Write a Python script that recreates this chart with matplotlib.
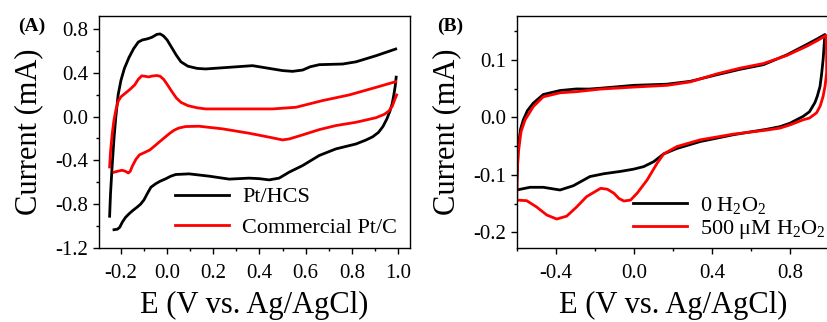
import numpy as np
import matplotlib
matplotlib.use("Agg")
import matplotlib.pyplot as plt
from matplotlib.ticker import MultipleLocator

plt.rcParams['font.family'] = ['Liberation Serif', 'DejaVu Serif']
plt.rcParams['mathtext.fontset'] = 'custom'
plt.rcParams['mathtext.rm'] = 'Liberation Serif'
plt.rcParams['mathtext.it'] = 'Liberation Serif:italic'
plt.rcParams['axes.unicode_minus'] = False

# (A) CV curves, Pt/HCS vs commercial Pt/C  (nan splits the open loop ends)
hcs_x = [-0.249, -0.245, -0.238, -0.23, -0.222, -0.212, -0.2, -0.185, -0.165, -0.145, -0.125, -0.107,
         -0.085, -0.065, -0.045, -0.03, -0.015, 0.0, 0.02, 0.04, 0.06, 0.09, 0.13, 0.167, 0.269, 0.37,
         0.442, 0.5, 0.543, 0.587, 0.62, 0.659, 0.76, 0.818, 0.905, 0.99,
         np.nan,
         0.992, 0.988, 0.982, 0.975, 0.965, 0.952, 0.935, 0.915, 0.89, 0.86, 0.818, 0.731, 0.659, 0.587,
         0.529, 0.485, 0.442, 0.4, 0.355, 0.269, 0.182, 0.095, 0.037, 0.015, -0.006, -0.03, -0.05, -0.07,
         -0.085, -0.1, -0.115, -0.13, -0.15, -0.165, -0.18, -0.194, -0.205, -0.215, -0.23]
hcs_y = [-0.91, -0.7, -0.45, -0.2, 0.0, 0.2, 0.33, 0.44, 0.54, 0.62, 0.68, 0.70,
         0.71, 0.725, 0.75, 0.755, 0.735, 0.70, 0.63, 0.56, 0.50, 0.46, 0.44, 0.435, 0.45, 0.465,
         0.44, 0.42, 0.413, 0.425, 0.455, 0.474, 0.48, 0.50, 0.556, 0.617,
         np.nan,
         0.36, 0.28, 0.20, 0.12, 0.05, -0.02, -0.09, -0.145, -0.185, -0.215, -0.25, -0.295, -0.355, -0.447,
         -0.507, -0.562, -0.578, -0.567, -0.562, -0.571, -0.544, -0.523, -0.529, -0.545, -0.568, -0.59,
         -0.614, -0.645, -0.70, -0.76, -0.80, -0.827, -0.86, -0.888, -0.92, -0.964, -1.01, -1.028, -1.033]

ptc_x = [-0.249, -0.245, -0.238, -0.23, -0.222, -0.212, -0.2, -0.18, -0.16, -0.14, -0.125, -0.11,
         -0.095, -0.08, -0.065, -0.045, -0.03, -0.015, 0.0, 0.02, 0.04, 0.06, 0.09, 0.13, 0.167, 0.312,
         0.457, 0.558, 0.673, 0.789, 0.905, 0.99,
         np.nan,
         0.994, 0.985, 0.975, 0.96, 0.94, 0.905, 0.818, 0.731, 0.659, 0.587, 0.529, 0.5, 0.442, 0.355,
         0.24, 0.138, 0.08, 0.05, 0.03, 0.01, -0.01, -0.035, -0.055, -0.075, -0.1, -0.12, -0.135, -0.15,
         -0.16, -0.168, -0.18, -0.195, -0.21, -0.23]
ptc_y = [-0.46, -0.32, -0.16, -0.03, 0.06, 0.14, 0.18, 0.215, 0.25, 0.29, 0.34, 0.372,
         0.368, 0.362, 0.37, 0.375, 0.368, 0.34, 0.295, 0.23, 0.17, 0.13, 0.10, 0.08, 0.07, 0.07,
         0.07, 0.085, 0.146, 0.198, 0.267, 0.319,
         np.nan,
         0.198, 0.15, 0.095, 0.05, 0.02, -0.01, -0.052, -0.082, -0.119, -0.167, -0.204, -0.213, -0.188,
         -0.152, -0.112, -0.088, -0.091, -0.105, -0.125, -0.155, -0.19, -0.234, -0.27, -0.305, -0.33,
         -0.35, -0.39, -0.45, -0.50, -0.515, -0.50, -0.49, -0.497, -0.508]

# (B) CV curves with and without H2O2
h0_x = [-0.6, -0.599, -0.592, -0.58, -0.566, -0.545, -0.515, -0.464, -0.378, -0.293, -0.23, -0.17, 0.0,
        0.17, 0.289, 0.426, 0.545, 0.664, 0.783, 0.885, 0.94, 0.979, 0.975, 0.97, 0.962, 0.954, 0.94,
        0.928, 0.9, 0.868, 0.8, 0.749, 0.681, 0.511, 0.34, 0.221, 0.153, 0.102, 0.051, 0.0, -0.068,
        -0.153, -0.225, -0.31, -0.378, -0.464, -0.532, -0.6]
h0_y = [-0.126, -0.109, -0.051, -0.02, -0.004, 0.012, 0.025, 0.04, 0.047, 0.0497, 0.0495, 0.051, 0.056,
        0.058, 0.063, 0.0745, 0.084, 0.092, 0.109, 0.127, 0.137, 0.1446, 0.125, 0.101, 0.075, 0.054, 0.037,
        0.026, 0.01, 0.002, -0.01, -0.016, -0.0206, -0.030, -0.042, -0.054, -0.0635, -0.077, -0.0856,
        -0.090, -0.094, -0.098, -0.103, -0.119, -0.1264, -0.1217, -0.1217, -0.1264]

h500_x = [-0.6, -0.598, -0.592, -0.578, -0.557, -0.515, -0.464, -0.378, -0.293, -0.17, 0.0, 0.17, 0.289,
          0.426, 0.545, 0.664, 0.783, 0.885, 0.94, 0.985, 0.988, 0.988, 0.98, 0.97, 0.955, 0.936, 0.9,
          0.868, 0.8, 0.749, 0.681, 0.511, 0.34, 0.221, 0.153, 0.119, 0.068, 0.017, -0.017, -0.051,
          -0.077, -0.102, -0.136, -0.17, -0.242, -0.293, -0.344, -0.395, -0.446, -0.498, -0.549, -0.6]
h500_y = [-0.144, -0.10, -0.062, -0.025, -0.004, 0.019, 0.036, 0.043, 0.045, 0.0495, 0.053, 0.056, 0.062,
          0.076, 0.086, 0.094, 0.108, 0.124, 0.134, 0.143, 0.11, 0.078, 0.055, 0.037, 0.02, 0.008, -0.001,
          -0.004, -0.013, -0.0185, -0.022, -0.029, -0.039, -0.0507, -0.0635, -0.08, -0.109, -0.132, -0.144,
          -0.1456, -0.141, -0.132, -0.125, -0.1235, -0.138, -0.156, -0.172, -0.177, -0.17, -0.156, -0.145,
          -0.144]

fig = plt.figure(figsize=(8.27, 3.22), dpi=100)
axA = fig.add_axes([0.1197, 0.2298, 0.3761, 0.7190])
axB = fig.add_axes([0.6248, 0.2298, 0.3776, 0.7190])

lw = 2.0
axA.plot(hcs_x, hcs_y, color='black', lw=lw, label='Pt/HCS', solid_joinstyle='round')
axA.plot(ptc_x, ptc_y, color='red', lw=lw, label='Commercial Pt/C', solid_joinstyle='round')
axA.set_xlim(-0.295, 1.052)
axA.set_ylim(-1.2, 0.914)
axA.xaxis.set_major_locator(MultipleLocator(0.2))
axA.xaxis.set_minor_locator(MultipleLocator(0.1))
axA.yaxis.set_major_locator(MultipleLocator(0.4))
axA.yaxis.set_minor_locator(MultipleLocator(0.2))
axA.xaxis.set_major_formatter(plt.FormatStrFormatter('%.1f'))
axA.yaxis.set_major_formatter(plt.FormatStrFormatter('%.1f'))

axB.plot(h0_x, h0_y, color='black', lw=lw, label='0 H$_2$O$_2$', solid_joinstyle='round')
axB.plot(h500_x, h500_y, color='red', lw=lw, label='500 μM H$_2$O$_2$', solid_joinstyle='round')
axB.set_xlim(-0.6, 1.0)
axB.set_ylim(-0.2275, 0.176)
axB.xaxis.set_major_locator(MultipleLocator(0.4))
axB.xaxis.set_minor_locator(MultipleLocator(0.2))
axB.yaxis.set_major_locator(MultipleLocator(0.1))
axB.yaxis.set_minor_locator(MultipleLocator(0.05))
axB.xaxis.set_major_formatter(plt.FormatStrFormatter('%.1f'))
axB.yaxis.set_major_formatter(plt.FormatStrFormatter('%.1f'))

for ax in (axA, axB):
    for s in ax.spines.values():
        s.set_linewidth(1.0)
    ax.tick_params(which='major', direction='out', length=4.5, width=1.0, labelsize=15)
    ax.tick_params(which='minor', direction='out', length=2.5, width=1.0)
    ax.tick_params(axis='x', which='major', pad=7)
    ax.tick_params(axis='y', which='major', pad=3)
    ax.set_xlabel('E (V vs. Ag/AgCl)', fontsize=22, labelpad=6)
    ax.set_ylabel('Current (mA)', fontsize=22, labelpad=9)

axA.legend(loc='lower right', bbox_to_anchor=(1.008, -0.022), frameon=False, fontsize=16,
           handlelength=2.4, handletextpad=0.6, labelspacing=0.43, borderaxespad=0.3)
axB.legend(loc='lower right', bbox_to_anchor=(1.04, -0.037), frameon=False, fontsize=16,
           handlelength=2.4, handletextpad=0.6, labelspacing=0.1, borderaxespad=0.3)

fig.text(0.022, 0.918, '(A)', fontsize=14, fontweight='bold', va='center')
fig.text(0.528, 0.918, '(B)', fontsize=14, fontweight='bold', va='center')

fig.savefig('out.png', dpi=100)
